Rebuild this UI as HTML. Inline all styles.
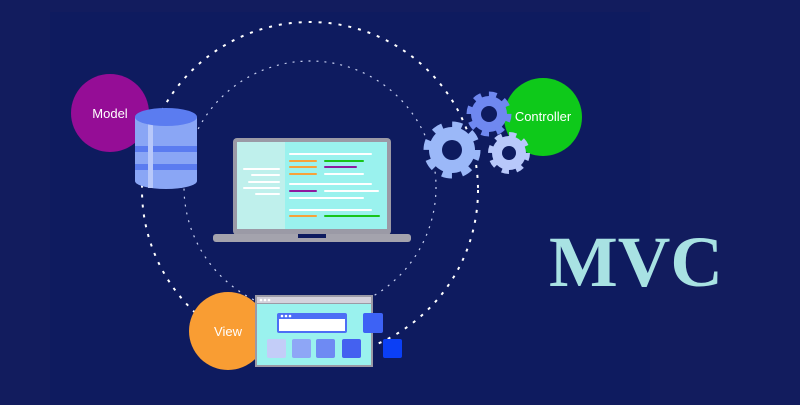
<!DOCTYPE html>
<html><head><style>
body{margin:0;width:800px;height:400px;overflow:hidden;background:#121c5e;font-family:"Liberation Sans",sans-serif}
</style></head><body>
<svg width="800" height="400" viewBox="0 0 800 400" xmlns="http://www.w3.org/2000/svg">
<rect width="800" height="400" fill="#121c5e"/>
<rect x="50" y="12" width="600" height="388" fill="#0e1b5f"/>
<circle cx="310" cy="190" r="168" fill="none" stroke="#ffffff" stroke-width="2" stroke-dasharray="3 7"/>
<circle cx="310" cy="187" r="126" fill="none" stroke="#c8d0f0" stroke-width="1.2" stroke-dasharray="2 6"/>
<!-- Model -->
<circle cx="110" cy="113" r="39" fill="#950d96"/>
<text x="110" y="118" fill="#fff" font-size="13" text-anchor="middle">Model</text>
<g>
<rect x="135" y="117" width="62" height="64" fill="#8aa6f5"/>
<ellipse cx="166" cy="181" rx="31" ry="8" fill="#8aa6f5"/>
<rect x="135" y="146" width="62" height="6" fill="#5b7cf0"/>
<rect x="135" y="164" width="62" height="6" fill="#5b7cf0"/>
<rect x="148" y="120" width="5" height="68" fill="#b8c8fa"/>
<ellipse cx="166" cy="117" rx="31" ry="9" fill="#5b7cf0"/>
</g>
<!-- Laptop -->
<rect x="233" y="138" width="158" height="97" rx="4" fill="#9b9aa6"/>
<rect x="237" y="142" width="48" height="87" fill="#bff0ec"/>
<rect x="285" y="142" width="102" height="87" fill="#9af2ee"/>
<rect x="213" y="234" width="198" height="8" rx="3" fill="#a4a3ad"/>
<rect x="298" y="234" width="28" height="4" fill="#0e1b5f"/>
<g stroke-width="2" stroke-linecap="round">
<line x1="290" y1="154" x2="371" y2="154" stroke="#fff"/>
<line x1="290" y1="161" x2="316" y2="161" stroke="#f7a23a"/><line x1="325" y1="161" x2="363" y2="161" stroke="#18c41a"/>
<line x1="290" y1="167" x2="316" y2="167" stroke="#f7a23a"/><line x1="325" y1="167" x2="356" y2="167" stroke="#8f1a9f"/>
<line x1="290" y1="174" x2="316" y2="174" stroke="#f7a23a"/><line x1="325" y1="174" x2="363" y2="174" stroke="#fff"/>
<line x1="290" y1="184" x2="371" y2="184" stroke="#fff"/>
<line x1="290" y1="191" x2="316" y2="191" stroke="#8f1a9f"/><line x1="325" y1="191" x2="378" y2="191" stroke="#fff"/>
<line x1="290" y1="198" x2="363" y2="198" stroke="#fff"/>
<line x1="290" y1="210" x2="371" y2="210" stroke="#fff"/>
<line x1="290" y1="216" x2="316" y2="216" stroke="#f7a23a"/><line x1="325" y1="216" x2="379" y2="216" stroke="#18c41a"/>
<line x1="244" y1="169" x2="279" y2="169" stroke="#fff"/>
<line x1="252" y1="175" x2="279" y2="175" stroke="#fff"/>
<line x1="249" y1="182" x2="279" y2="182" stroke="#fff"/>
<line x1="244" y1="188" x2="279" y2="188" stroke="#fff"/>
<line x1="256" y1="194" x2="279" y2="194" stroke="#fff"/>
</g>
<!-- Controller -->
<circle cx="543" cy="117" r="39" fill="#0ec91a"/>
<text x="543" y="121" fill="#fff" font-size="13" text-anchor="middle">Controller</text>
<g><circle cx="489" cy="114" r="18" stroke="#6f88f0" stroke-width="9" stroke-dasharray="7 7.1" fill="#6f88f0"/><circle cx="489" cy="114" r="15" fill="#6f88f0"/><circle cx="489" cy="114" r="8" fill="#0e1b5f"/></g>
<g><circle cx="452" cy="150" r="23" stroke="#9bb8f8" stroke-width="11" stroke-dasharray="9 9.06" fill="#9bb8f8"/><circle cx="452" cy="150" r="10" fill="#0e1b5f"/></g>
<g><circle cx="509" cy="153" r="17" stroke="#b8c8fa" stroke-width="8" stroke-dasharray="6.6 6.75" fill="#b8c8fa"/><circle cx="509" cy="153" r="7" fill="#0e1b5f"/></g>
<!-- View -->
<circle cx="228" cy="331" r="39" fill="#f99d33"/>
<text x="228" y="336" fill="#fff" font-size="13" text-anchor="middle">View</text>
<rect x="255" y="295" width="118" height="72" fill="#9b9aa6"/>
<rect x="257" y="297" width="114" height="6" fill="#d4d2dc"/>
<rect x="257" y="304" width="114" height="61" fill="#9af2ee"/>
<circle cx="261" cy="300" r="1.3" fill="#fff"/><circle cx="265" cy="300" r="1.3" fill="#fff"/><circle cx="269" cy="300" r="1.3" fill="#fff"/>
<rect x="277" y="313" width="70" height="20" rx="2" fill="#4d6ef5"/>
<rect x="279" y="319" width="66" height="12" fill="#fff"/>
<circle cx="282" cy="316" r="1.3" fill="#fff"/><circle cx="286" cy="316" r="1.3" fill="#fff"/><circle cx="290" cy="316" r="1.3" fill="#fff"/>
<rect x="267" y="339" width="19" height="19" rx="2" fill="#c3cdf8"/>
<rect x="292" y="339" width="19" height="19" rx="2" fill="#8ea6f6"/>
<rect x="316" y="339" width="19" height="19" rx="2" fill="#6e8af3"/>
<rect x="342" y="339" width="19" height="19" rx="2" fill="#4461f0"/>
<rect x="363" y="313" width="20" height="20" rx="2" fill="#3d62f5"/>
<rect x="383" y="339" width="19" height="19" rx="2" fill="#0b3ff5"/>
<text x="636" y="286" fill="#a8e2e3" font-family="Liberation Serif,serif" font-weight="bold" font-size="72" text-anchor="middle" textLength="174" lengthAdjust="spacingAndGlyphs">MVC</text>
</svg>
</body></html>
